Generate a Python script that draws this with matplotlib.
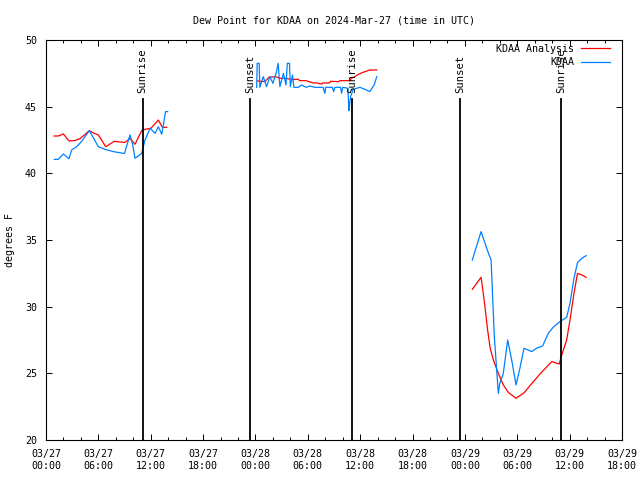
import numpy as np
import matplotlib
matplotlib.use('Agg')
import matplotlib.pyplot as plt
import matplotlib.dates as mdates

# hours since 2024-03-27 00:00 UTC, None marks a gap in the record
ana_hours = [0.92, 1.41, 1.99, 2.64, 3.25, 3.9, 4.4, 4.96, 5.5, 6.0, 6.84, 7.83, 8.48, 9.05,
             9.62, 10.2, 10.96, 11.35, 12.03, 12.87, 13.33, 13.83,
             None,
             24.2, 25.06, 25.6, 26.4, 26.78, 27.35, 28.1, 28.9, 29.07, 29.8, 30.6, 30.98,
             31.6, 31.7, 32.5, 32.6, 33.5, 33.7, 34.8, 35.0, 35.4, 35.8, 36.36, 37.1, 37.9,
             None,
             48.85, 49.85, 50.0, 50.3, 50.6, 50.9, 51.26, 51.83, 52.4, 53.0, 53.86, 54.8,
             55.46, 56.6, 57.95, 58.8, 59.1, 59.66, 60.04, 60.5, 60.9, 61.4, 61.9]
ana_dewp = [42.8, 42.8, 42.95, 42.43, 42.45, 42.6, 42.88, 43.2, 43.0, 42.88, 42.0, 42.4, 42.35, 42.32,
            42.62, 42.18, 43.2, 43.3, 43.38, 44.0, 43.45, 43.45,
            None,
            46.93, 46.88, 47.23, 47.23, 47.13, 47.13, 47.05, 47.05, 46.95, 46.95, 46.78, 46.78,
            46.7, 46.78, 46.78, 46.9, 46.88, 46.95, 46.95, 47.13, 47.25, 47.43, 47.58, 47.75, 47.75,
            None,
            31.3, 32.2, 31.5, 30.0, 28.25, 26.88, 26.0, 25.0, 24.13, 23.55, 23.13, 23.55,
            24.08, 24.95, 25.88, 25.7, 26.38, 27.5, 29.0, 31.0, 32.5, 32.38, 32.2]

obs_hours = [0.95, 1.41, 1.99, 2.64, 2.94, 3.51, 4.09, 4.96, 6.0, 6.76, 7.71, 8.86, 9.0, 9.62,
             9.9, 10.2, 10.58, 10.96, 11.35, 11.92, 12.5, 12.87, 13.26, 13.45, 13.7, 13.94,
             None,
             24.14, 24.2, 24.43, 24.5, 24.9, 25.27, 25.65, 26.0, 26.4, 26.6, 26.8, 27.2, 27.5,
             27.65, 27.9, 28.0, 28.25, 28.4, 28.9, 29.3, 29.8, 30.25, 30.8, 31.75, 31.95, 32.05,
             32.8, 32.97, 33.1, 33.75, 33.87, 34.0, 34.6, 34.7, 34.8, 34.9, 35.2, 35.97, 36.55,
             37.1, 37.6, 37.9,
             None,
             48.85, 49.85, 50.7, 51.0, 51.37, 51.83, 52.0, 52.4, 52.9, 53.36, 53.86, 54.3,
             54.77, 55.65, 56.2, 56.9, 57.56, 58.1, 58.9, 59.66, 60.04, 60.5, 60.9, 61.4, 61.9]
obs_dewp = [41.05, 41.05, 41.45, 41.1, 41.75, 42.0, 42.4, 43.2, 42.0, 41.8, 41.63, 41.5, 41.5, 42.88,
            42.25, 41.13, 41.3, 41.5, 42.5, 43.38, 43.0, 43.5, 42.93, 43.63, 44.63, 44.63,
            None,
            46.45, 48.25, 48.25, 46.45, 47.25, 46.5, 47.25, 46.75, 47.6, 48.25, 46.5, 47.5, 46.63,
            48.25, 48.25, 46.5, 47.38, 46.45, 46.45, 46.63, 46.45, 46.55, 46.45, 46.45, 46.0, 46.45,
            46.45, 46.13, 46.45, 46.45, 46.0, 46.45, 46.38, 44.7, 45.25, 45.75, 46.3, 46.45, 46.3,
            46.13, 46.63, 47.25,
            None,
            33.5, 35.63, 34.0, 33.5, 27.75, 23.5, 24.25, 25.0, 27.5, 26.0, 24.13, 25.38,
            26.88, 26.63, 26.88, 27.05, 28.0, 28.45, 28.88, 29.2, 30.25, 32.13, 33.3, 33.63, 33.83]

sun_hours = [11.08, 23.42, 35.05, 47.45, 59.0]
sun_labels = ['Sunrise', 'Sunset', 'Sunrise', 'Sunset', 'Sunrise']

base = mdates.date2num(np.datetime64('2024-03-27T00:00'))


def to_days(hours):
    return base + np.array(hours, dtype=float) / 24.0


plt.rcParams['font.family'] = 'DejaVu Sans Mono'
fs = 7.2

fig = plt.figure(figsize=(6.4, 4.8), dpi=100)
ax = fig.add_axes([46 / 640, 40 / 480, 576 / 640, 400 / 480])

ax.plot(to_days(ana_hours), np.array(ana_dewp, dtype=float), color='#ff0000', lw=0.9,
        label='KDAA Analysis')
ax.plot(to_days(obs_hours), np.array(obs_dewp, dtype=float), color='#0080ff', lw=0.9,
        label='KDAA')

for h, lab in zip(sun_hours, sun_labels):
    x = to_days([h])[0]
    ax.plot([x, x], [20, 45.6], color='black', lw=1.3)
    ax.text(x, 46.0, lab, rotation=90, ha='center', va='bottom', fontsize=7.6)

ax.set_xlim(to_days([0])[0], to_days([66])[0])
ax.set_ylim(20, 50)
ax.set_yticks(range(20, 51, 5))

ax.xaxis.set_major_locator(mdates.HourLocator(byhour=range(0, 24, 6)))
ax.xaxis.set_minor_locator(mdates.HourLocator(byhour=range(0, 24, 2)))
ax.xaxis.set_major_formatter(mdates.DateFormatter('%m/%d\n%H:%M'))

ax.tick_params(which='both', direction='in', top=True, right=True, labelsize=fs, width=0.7)
ax.tick_params(which='major', length=4.5, pad=6.5)
ax.tick_params(which='minor', length=2.5)
for lbl in ax.get_xticklabels():
    lbl.set_linespacing(1.3)
for sp in ax.spines.values():
    sp.set_linewidth(0.8)

ax.set_title('Dew Point for KDAA on 2024-Mar-27 (time in UTC)', fontsize=fs, pad=12)
fig.text(10 / 640, 0.5, 'degrees F', rotation=90, ha='center', va='center', fontsize=fs)

ax.legend(loc='upper right', bbox_to_anchor=(1 - 12 / 576, 1 - 4 / 400), frameon=False,
          markerfirst=False, fontsize=fs, handlelength=2.9, handletextpad=0.7,
          labelspacing=0.35, borderpad=0, borderaxespad=0)

fig.savefig('out.png', dpi=100)
